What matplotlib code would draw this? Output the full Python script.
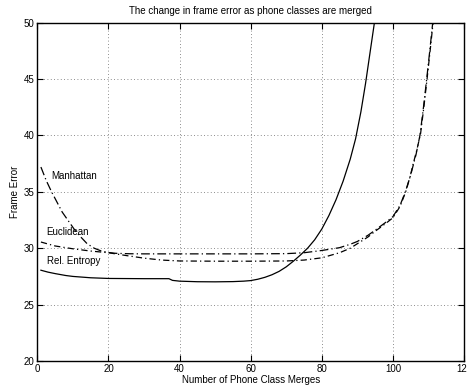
import matplotlib
matplotlib.use("Agg")
import matplotlib.pyplot as plt
import numpy as np

plt.rcParams['font.family'] = ['Liberation Sans', 'DejaVu Sans']

# Rel. Entropy (solid)
rel_x = [1, 3, 5, 8, 10, 15, 20, 30, 37, 38, 40, 45, 50, 55, 58, 60, 62, 64, 66, 68, 70, 72, 74, 76, 78, 80,
         82, 84, 86, 88, 89.5, 91, 92.3, 93.5, 94.8, 95.5]
rel_y = [28.05, 27.88, 27.75, 27.58, 27.5, 27.38, 27.32, 27.3, 27.3, 27.15, 27.08, 27.03, 27.02, 27.04, 27.08, 27.13, 27.25, 27.42, 27.65, 27.95, 28.35, 28.85, 29.4, 30.0, 30.75, 31.7,
         32.9, 34.3, 35.95, 37.9, 39.7, 42.1, 44.6, 47.2, 50.0, 51.5]

# Manhattan (dash-dot, upper plateau)
man_x = [1, 2.5, 4, 7, 11, 14, 16, 18, 20, 22, 26, 30, 40, 50, 60, 70, 75, 80, 85, 88, 90, 93, 95, 98, 100, 102, 103.5,
         105, 106.5, 107.6, 108.6, 109.5, 110.4, 111.2, 112]
man_y = [37.2, 36.0, 35.0, 33.2, 31.4, 30.4, 30.0, 29.75, 29.62, 29.55, 29.51, 29.5, 29.5, 29.5, 29.5, 29.52, 29.6, 29.8, 30.05, 30.35, 30.6, 31.15, 31.6, 32.3, 32.8, 33.8, 35.0,
         36.5, 38.3, 40.0, 42.5, 45.0, 47.6, 50.0, 52.0]

# Euclidean (dash-dot, lower plateau)
euc_x = [1, 5, 10, 15, 20, 25, 30, 35, 40, 50, 60, 70, 75, 80, 85, 88, 90, 93, 95, 98, 100, 102, 103.6,
         104.8, 105.8, 106.8, 107.8, 108.7, 109.6, 110.5, 111.3, 112]
euc_y = [30.55, 30.2, 29.95, 29.75, 29.6, 29.35, 29.12, 28.95, 28.87, 28.85, 28.85, 28.87, 28.95, 29.15, 29.6, 30.0, 30.4, 31.0, 31.5, 32.2, 32.7, 33.7, 35.0,
         36.3, 37.6, 38.8, 40.2, 42.5, 45.0, 47.6, 50.0, 52.0]

fig = plt.figure(figsize=(4.67, 3.88), dpi=100)
ax = fig.add_axes([0.08, 0.0696, 0.9136, 0.8719])

ax.plot(rel_x, rel_y, color='black', linestyle='-', linewidth=0.9)
ax.plot(man_x, man_y, color='black', linestyle=(0, (7, 2.5, 1, 2.5)), linewidth=0.9)
ax.plot(euc_x, euc_y, color='black', linestyle=(0, (5, 2.5, 1, 2.5)), linewidth=0.9)

ax.text(3.8, 36.4, 'Manhattan', fontsize=7, va='center', ha='left')
ax.text(2.4, 31.4, 'Euclidean', fontsize=7, va='center', ha='left')
ax.text(2.6, 28.9, 'Rel. Entropy', fontsize=7, va='center', ha='left')

ax.set_xlim(0, 120)
ax.set_ylim(20, 50)
ax.set_xticks(np.arange(0, 121, 20))
ax.set_yticks(np.arange(20, 51, 5))
ax.grid(True, linestyle=(0, (1, 3)), color='black', linewidth=0.6, alpha=0.6)
ax.tick_params(direction='in', top=True, right=True, labelsize=7, length=4, pad=2)
for s in ax.spines.values():
    s.set_linewidth(1.0)

ax.set_xlabel('Number of Phone Class Merges', fontsize=7, labelpad=1)
ax.set_ylabel('Frame Error', fontsize=7, labelpad=3)
ax.set_title('The change in frame error as phone classes are merged', fontsize=7, pad=6)

fig.savefig('out.png', dpi=100)
